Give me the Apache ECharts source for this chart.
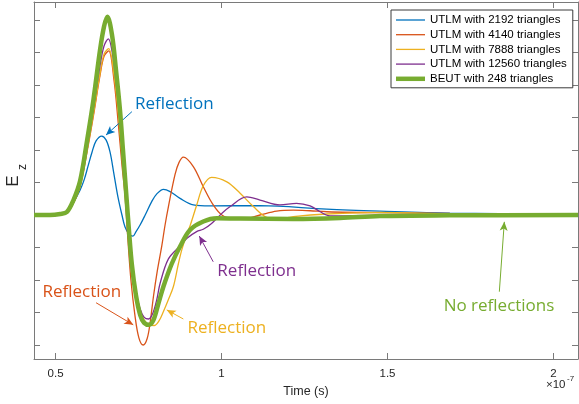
<!DOCTYPE html>
<html>
<head>
<meta charset="utf-8">
<script src="https://cdn.jsdelivr.net/npm/echarts@6/dist/echarts.min.js"></script>
<style>
  html, body { margin: 0; padding: 0; background: #fff; }
  #chart { width: 579px; height: 404px; }
</style>
</head>
<body>
<div id="chart"></div>
<script>
// time axis in units of 1e-7 s, Ez in units of one tick step
const timeTicks = [0.5, 1, 1.5, 2]
const ezTicks = [-4, -3, -2, -1, 0, 1, 2, 3, 4, 5, 6]

const seriesNames = [
  'UTLM with 2192 triangles',
  'UTLM with 4140 triangles',
  'UTLM with 7888 triangles',
  'UTLM with 12560 triangles',
  'BEUT with 248 triangles'
]

const utlm2192 = [
  [0.435, 0], [0.514, 0.02], [0.534, 0.09], [0.553, 0.37], [0.574, 0.77], [0.586, 1.08],
  [0.598, 1.51], [0.610, 1.94], [0.622, 2.28], [0.639, 2.43], [0.652, 2.31], [0.664, 1.94],
  [0.676, 1.25], [0.688, 0.55], [0.700, 0], [0.709, -0.36], [0.721, -0.58], [0.733, -0.65],
  [0.742, -0.52], [0.755, -0.3], [0.770, 0.0], [0.790, 0.42], [0.805, 0.65], [0.825, 0.79],
  [0.845, 0.72], [0.875, 0.51], [0.915, 0.31], [0.965, 0.28], [1.116, 0.29], [1.317, 0.18],
  [1.477, 0.12], [1.688, 0.06], [2.074, 0.03]
]

const utlm4140 = [
  [0.435, 0], [0.514, 0.02], [0.534, 0.07], [0.554, 0.37], [0.574, 0.88], [0.595, 1.95],
  [0.614, 3.05], [0.634, 4.3], [0.646, 4.88], [0.660, 5.05], [0.676, 4.15], [0.688, 2.92],
  [0.700, 1.54], [0.709, 0.62], [0.718, -0.77], [0.727, -2.0], [0.739, -3.08], [0.751, -3.78],
  [0.764, -4.0], [0.776, -3.8], [0.785, -3.3], [0.795, -2.5], [0.806, -1.75], [0.820, -0.95],
  [0.830, -0.3], [0.840, 0.26], [0.860, 1.25], [0.872, 1.62], [0.885, 1.78], [0.915, 1.49],
  [0.945, 0.87], [0.975, 0.31], [1.001, 0], [1.036, -0.12], [1.066, -0.12], [1.116, 0],
  [1.166, 0.12], [1.216, 0.15], [1.267, 0.13], [1.317, 0.1], [1.477, 0.07], [1.688, 0.05],
  [2.074, 0.03]
]

const utlm7888 = [
  [0.435, 0], [0.514, 0.02], [0.534, 0.07], [0.554, 0.38], [0.574, 0.9], [0.595, 2.0],
  [0.614, 3.1], [0.634, 4.35], [0.646, 4.95], [0.660, 5.12], [0.676, 4.3], [0.688, 3.23],
  [0.700, 1.85], [0.709, 0.77], [0.718, -0.31], [0.727, -1.32], [0.739, -2.25], [0.751, -2.86],
  [0.767, -3.23], [0.782, -3.38], [0.797, -3.4], [0.812, -3.25], [0.825, -2.97], [0.840, -2.6],
  [0.855, -2.2], [0.870, -1.5], [0.880, -1.08], [0.895, -0.6], [0.905, -0.34], [0.925, 0.3],
  [0.945, 0.9], [0.970, 1.16], [1.016, 1.02], [1.056, 0.67], [1.096, 0.26], [1.136, -0.07],
  [1.176, -0.12], [1.216, -0.05], [1.317, 0.03], [1.477, 0.08], [1.688, 0.04], [2.074, 0.02]
]

const utlm12560 = [
  [0.435, 0], [0.514, 0.02], [0.534, 0.07], [0.554, 0.4], [0.574, 0.95], [0.595, 2.1],
  [0.614, 3.3], [0.634, 4.6], [0.646, 5.2], [0.659, 5.42], [0.670, 5.05], [0.682, 4.1],
  [0.694, 2.95], [0.703, 1.85], [0.712, 0.7], [0.721, -0.5], [0.730, -1.5], [0.742, -2.35],
  [0.755, -2.9], [0.767, -3.15], [0.780, -3.2], [0.792, -3.05], [0.805, -2.6], [0.815, -2.1],
  [0.840, -1.35], [0.875, -0.95], [0.895, -0.72], [0.925, -0.51], [0.945, -0.44], [0.970, -0.26],
  [1.001, 0.05], [1.026, 0.26], [1.076, 0.56], [1.116, 0.46], [1.176, 0.31], [1.226, 0.36],
  [1.267, 0.28], [1.297, 0.1], [1.327, -0.03], [1.40, -0.02], [1.55, 0.0], [1.8, 0.01],
  [2.074, 0.01]
]

const beut248 = [
  [0.435, 0], [0.483, 0], [0.514, 0.03], [0.534, 0.09], [0.554, 0.46], [0.574, 1.05],
  [0.595, 2.3], [0.614, 3.54], [0.634, 5.08], [0.646, 5.8], [0.656, 6.1], [0.670, 5.54],
  [0.682, 4.46], [0.694, 3.23], [0.703, 2.0], [0.712, 0.77], [0.721, -0.46], [0.730, -1.54],
  [0.742, -2.46], [0.755, -3.08], [0.767, -3.32], [0.782, -3.38], [0.795, -3.23], [0.810, -2.72],
  [0.825, -2.2], [0.850, -1.5], [0.875, -0.97], [0.905, -0.46], [0.945, -0.2], [0.986, -0.1],
  [1.056, -0.11], [1.216, -0.12], [1.357, -0.09], [1.477, -0.03], [1.688, -0.01], [2.074, 0]
]

const seriesData = [utlm2192, utlm4140, utlm7888, utlm12560, beut248]
const seriesColors = ['#0072BD', '#D95319', '#EDB120', '#7E2F8E', '#77AC30']
const seriesWidths = [1.3, 1.3, 1.3, 1.3, 4.5]

// annotation text and arrows, in data coordinates: [text position, arrow tail, arrow tip]
const noteTexts = ['Reflection', 'Reflection', 'Reflection', 'Reflection', 'No reflections']
const notePositions = [[0.858, 3.42], [0.579, -2.36], [1.016, -3.49], [1.106, -1.74], [1.836, -2.8]]
const arrowTails = [[0.730, 3.18], [0.622, -2.70], [0.885, -3.20], [0.975, -1.44], [1.837, -2.36]]
const arrowTips = [[0.652, 2.46], [0.734, -3.38], [0.835, -2.92], [0.933, -0.65], [1.852, -0.21]]

const axisColor = '#7a7a7a'
const textColor = '#262626'
const labelFont = '"Liberation Sans", Arial, sans-serif'

function buildSeries(index) {
  const color = seriesColors[index]
  return {
    name: seriesNames[index],
    type: 'line',
    data: seriesData[index],
    symbol: 'none',
    smooth: 0.35,
    lineStyle: { color, width: seriesWidths[index] },
    itemStyle: { color },
    z: 2 + index,
    markLine: {
      silent: true,
      symbol: ['none', 'arrow'],
      symbolSize: [6, 9],
      label: { show: false },
      lineStyle: { type: 'solid', width: 1, color },
      data: [[{ coord: arrowTails[index] }, { coord: arrowTips[index] }]]
    },
    markPoint: {
      silent: true,
      symbol: 'circle',
      symbolSize: 0,
      label: {
        show: true,
        position: 'inside',
        formatter: noteTexts[index],
        color,
        fontSize: 17,
        fontFamily: '"Open Sans", sans-serif'
      },
      data: [{ coord: notePositions[index] }]
    }
  }
}

const boxAxis = {
  type: 'value',
  min: 0.435,
  max: 2.074,
  axisLine: { show: true, onZero: false, lineStyle: { color: axisColor, width: 1 } },
  axisTick: { show: true, inside: true, length: 6, customValues: timeTicks, lineStyle: { color: axisColor } },
  splitLine: { show: false }
}

const eAxis = {
  type: 'value',
  min: -4.431,
  max: 6.554,
  axisLine: { show: true, onZero: false, lineStyle: { color: axisColor, width: 1 } },
  axisTick: { show: true, inside: true, length: 6, customValues: ezTicks, lineStyle: { color: axisColor } },
  axisLabel: { show: false },
  splitLine: { show: false }
}

const chart = echarts.init(document.getElementById('chart'))

chart.setOption({
  animation: false,
  grid: { left: 34, right: 1, top: 2, bottom: 45, outerBoundsMode: 'none' },
  legend: {
    orient: 'vertical',
    left: 391,
    top: 10,
    padding: [4, 6, 3, 5],
    itemWidth: 29,
    itemHeight: 12,
    itemGap: 2.7,
    backgroundColor: '#fff',
    borderColor: '#3a3a3a',
    borderWidth: 1,
    borderRadius: 0,
    textStyle: { color: '#000', fontSize: 11.5, lineHeight: 12, fontFamily: labelFont },
    data: seriesNames.map((name, i) => ({
      name,
      icon: `path://M0,0H29V${seriesWidths[i]}H0Z`,
      itemStyle: { color: seriesColors[i] }
    }))
  },
  xAxis: [
    Object.assign({}, boxAxis, {
      position: 'bottom',
      name: 'Time (s)',
      nameLocation: 'middle',
      nameGap: 23,
      nameTextStyle: { color: textColor, fontSize: 12.5, fontFamily: labelFont },
      axisLabel: {
        show: true,
        customValues: timeTicks,
        color: textColor,
        fontSize: 11.5,
        fontFamily: labelFont,
        margin: 9,
        formatter: (v) => String(v)
      }
    }),
    Object.assign({}, boxAxis, {
      position: 'top',
      axisLabel: { show: false }
    })
  ],
  yAxis: [
    Object.assign({}, eAxis, { position: 'left' }),
    Object.assign({}, eAxis, { position: 'right' })
  ],
  graphic: [
    {
      type: 'text',
      x: 13,
      y: 181,
      rotation: Math.PI / 2,
      style: { text: 'E', fill: textColor, font: '17px "Liberation Sans", Arial, sans-serif', textAlign: 'center', textVerticalAlign: 'middle' }
    },
    {
      type: 'text',
      x: 23,
      y: 167,
      rotation: Math.PI / 2,
      style: { text: 'z', fill: textColor, font: '12px "Liberation Sans", Arial, sans-serif', textAlign: 'center', textVerticalAlign: 'middle' }
    },
    {
      type: 'text',
      x: 546,
      y: 385,
      style: { text: '\u00d710', fill: textColor, font: '11.5px "Liberation Sans", Arial, sans-serif', textAlign: 'left', textVerticalAlign: 'middle' }
    },
    {
      type: 'text',
      x: 567,
      y: 379,
      style: { text: '-7', fill: textColor, font: '8px "Liberation Sans", Arial, sans-serif', textAlign: 'left', textVerticalAlign: 'middle' }
    }
  ],
  series: seriesData.map((_, i) => buildSeries(i))
})
</script>
</body>
</html>
